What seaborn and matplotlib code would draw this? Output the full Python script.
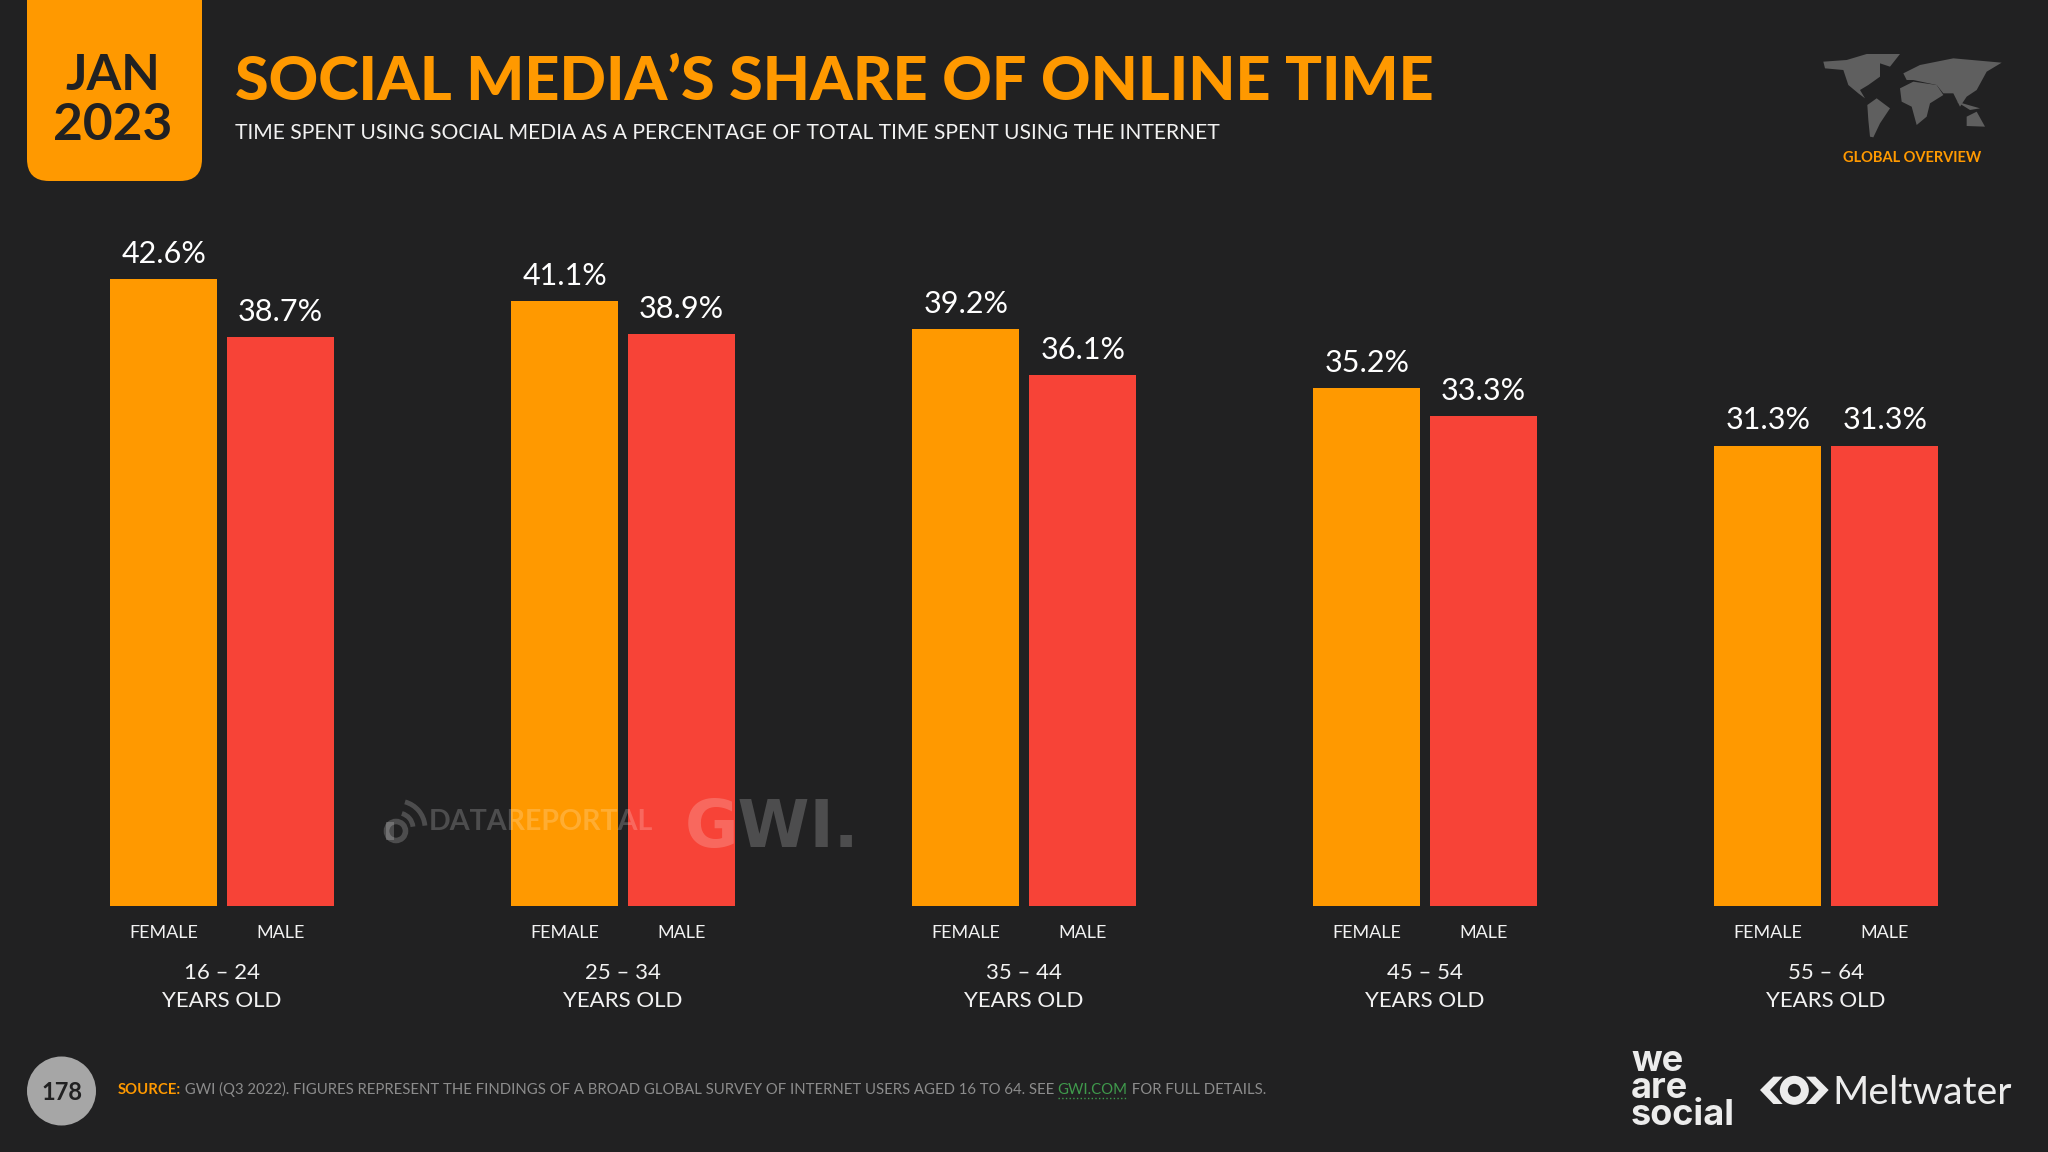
import pandas as pd
import seaborn as sns
import matplotlib.pyplot as plt
from matplotlib.patches import FancyBboxPatch, Circle, Polygon, Arc, Rectangle

age_groups = ["16 – 24", "25 – 34", "35 – 44", "45 – 54", "55 – 64"]
genders = ["FEMALE", "MALE"]
female_share = [42.6, 41.1, 39.2, 35.2, 31.3]
male_share = [38.7, 38.9, 36.1, 33.3, 31.3]

BG = "#212122"
ORANGE = "#FF9900"
RED = "#F74337"
MAIN = ["Lato", "DejaVu Sans"]

sns.set_theme(style="dark")
plt.rcParams["font.family"] = MAIN

df = pd.DataFrame({
    "age": age_groups * 2,
    "gender": ["FEMALE"] * 5 + ["MALE"] * 5,
    "share": female_share + male_share,
})

fig = plt.figure(figsize=(20.48, 11.52), dpi=100, facecolor=BG)

# bar axes: 401 px per group, 14.72 px per percentage point
ax = fig.add_axes([0, (1152 - 906.3) / 1152, 1, (906.3 - 200) / 1152], facecolor=BG)
sns.barplot(data=df, x="age", y="share", hue="gender", hue_order=genders,
            palette=[ORANGE, RED], width=0.5835, gap=0.0855, saturation=1, legend=False,
            linewidth=0, ax=ax)
ax.set_xlim(-222.2 / 401, (2048 - 222.2) / 401)
ax.set_ylim(0, (906.3 - 200) / 14.72)
ax.set_xlabel("")
ax.set_ylabel("")
ax.set_yticks([])
ax.set_xticks(range(5))
ax.set_xticklabels([a + "\nYEARS OLD" for a in age_groups], color="#f2f2f2", fontsize=16,
                   linespacing=1.55)
ax.tick_params(axis="x", length=0, pad=40.5)
ax.grid(False)
for s in ax.spines.values():
    s.set_visible(False)

for cont, gender in zip(ax.containers, genders):
    ax.bar_label(cont, fmt="%.1f%%", color="white", fontsize=22, padding=8)
    for bar in cont:
        ax.annotate(gender, (bar.get_x() + bar.get_width() / 2, 0), xytext=(0, -19.5),
                    textcoords="offset points", ha="center", va="center",
                    color="#f2f2f2", fontsize=13)

# overlay in pixel coordinates for the slide furniture
ov = fig.add_axes([0, 0, 1, 1], facecolor="none")
ov.set_xlim(0, 2048)
ov.set_ylim(1152, 0)
ov.axis("off")

ov.add_patch(FancyBboxPatch((27, -40), 175, 221, boxstyle="round,pad=0,rounding_size=22",
                            fc=ORANGE, ec="none"))
ov.text(113, 75, "JAN", ha="center", va="center", color=BG, fontsize=36, fontweight="bold")
ov.text(113, 125, "2023", ha="center", va="center", color=BG, fontsize=37, fontweight="bold")
ov.text(235, 100, "SOCIAL MEDIA’S SHARE OF ONLINE TIME", ha="left", va="baseline",
        color=ORANGE, fontsize=44, fontweight=900)
ov.text(235, 139, "TIME SPENT USING SOCIAL MEDIA AS A PERCENTAGE OF TOTAL TIME SPENT USING THE INTERNET",
        ha="left", va="baseline", color="#f2f2f2", fontsize=15.2)

# world map, rough outline
map_color = "#5f5f5f"
continents = [
    [(130, 95), (200, 90), (260, 72), (360, 72), (330, 110), (300, 100), (300, 140), (265, 165),
     (240, 180), (255, 205), (235, 190), (205, 165), (190, 120), (135, 115)],
    [(262, 225), (290, 205), (330, 235), (300, 280), (280, 322), (270, 320), (265, 270)],
    [(360, 175), (400, 155), (470, 165), (490, 195), (450, 220), (440, 260), (410, 285),
     (395, 230), (365, 215)],
    [(370, 130), (420, 105), (520, 85), (665, 98), (620, 125), (590, 180), (560, 200),
     (540, 230), (520, 190), (490, 190), (470, 165), (400, 150), (380, 150)],
    [(560, 260), (590, 245), (615, 290), (560, 288)],
    [(530, 215), (600, 235), (570, 240)],
]
for c in continents:
    ov.add_patch(Polygon([(1780 + x / 3, 30 + y / 3) for x, y in c], fc=map_color, ec="none"))
ov.text(1912.5, 158, "GLOBAL OVERVIEW", ha="center", va="center", color=ORANGE,
        fontsize=10.5, fontweight="bold")

# watermarks sit above the bars
wm = dict(color="white", alpha=0.2, zorder=6)
ov.text(429, 830, "DATAREPORTAL", ha="left", va="baseline", fontsize=20.6, fontweight="bold", **wm)
ov.text(685, 847, "GWI.", ha="left", va="baseline", fontsize=47, fontweight="bold",
        family="DejaVu Sans", **wm)
ov.add_patch(Rectangle((386, 822), 8, 18, fc="white", ec="none", alpha=0.2))
ov.add_patch(Circle((396, 831), 9.5, fc="none", ec="white", lw=4, alpha=0.2))
for r in (15, 27):
    ov.add_patch(Arc((398, 828), 2 * r, 2 * r, theta1=-75 + 360, theta2=-5 + 360, ec="white",
                     lw=3.5, alpha=0.2))

# footer
ov.add_patch(Circle((61.5, 1091), 34.5, fc="#a6a6a6", ec="none"))
ov.text(61.5, 1092, "178", ha="center", va="center", color=BG, fontsize=17, fontweight="bold")

source_runs = [
    ("SOURCE:", ORANGE, "bold"),
    (" GWI (Q3 2022). FIGURES REPRESENT THE FINDINGS OF A BROAD GLOBAL SURVEY OF INTERNET USERS AGED 16 TO 64. SEE ", "#8c8c8c", "normal"),
    ("GWI.COM", "#3f9a4c", "normal"),
    (" FOR FULL DETAILS.", "#8c8c8c", "normal"),
]
fig.canvas.draw()
renderer = fig.canvas.get_renderer()
x = 117.5
for s, col, weight in source_runs:
    t = ov.text(x, 1094, s, ha="left", va="baseline", color=col, fontsize=10.75, fontweight=weight)
    # trailing/leading spaces count in the layout width
    width = t.get_window_extent(renderer).width
    if s == "GWI.COM":
        ov.plot([x, x + width], [1097.5, 1097.5], color=col, lw=1, ls=":")
    x += width

# logos, va=baseline on a multi-line text anchors the last line
ov.text(1631, 1125, "we\nare\nsocial", ha="left", va="baseline", color="#ececec", fontsize=26,
        fontweight="bold", linespacing=0.77, family=["Inter", "Lato", "DejaVu Sans"])
ov.text(1832, 1104, "Meltwater", ha="left", va="baseline", color="#ececec", fontsize=28.2)
eye_x, eye_y = 1600, 1030
for pts in ([(480, 180), (520, 140), (548, 140), (510, 180), (548, 222), (520, 222)],
            [(686, 180), (646, 140), (618, 140), (656, 180), (618, 222), (646, 222)]):
    ov.add_patch(Polygon([(eye_x + a / 3, eye_y + b / 3) for a, b in pts], fc="#ececec", ec="none"))
ov.add_patch(Circle((eye_x + 583 / 3, eye_y + 181 / 3), 14.5, fc="#ececec", ec="none"))
ov.add_patch(Circle((eye_x + 583 / 3, eye_y + 181 / 3), 6.5, fc=BG, ec="none"))

fig.savefig("out.png", dpi=100, facecolor=BG)
